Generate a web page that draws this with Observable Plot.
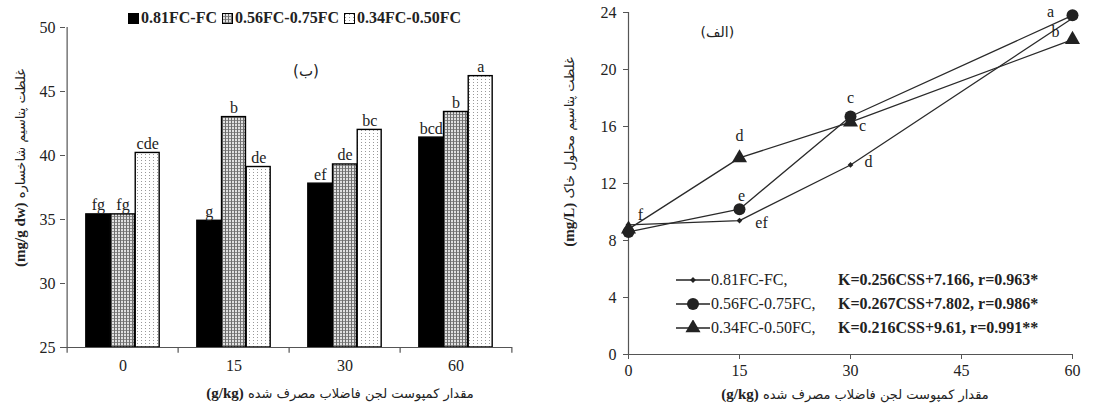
<!DOCTYPE html>
<html><head><meta charset="utf-8">
<script src="https://cdn.jsdelivr.net/npm/d3@7"></script>
<script src="https://cdn.jsdelivr.net/npm/@observablehq/plot@0.6"></script>
<style>
body{margin:0;background:#fff;}
#wrap{position:relative;width:1104px;height:405px;overflow:hidden;font-family:"Liberation Serif","DejaVu Sans",serif;color:#222;}
.panel{position:absolute;top:0;}
.ttl{position:absolute;white-space:nowrap;font-size:13px;font-family:"DejaVu Sans","Liberation Serif",sans-serif;transform:translate(-50%,-50%);}
.ttl b{font-family:"Liberation Serif",serif;font-size:15px;unicode-bidi:isolate;}
.rot{transform:translate(-50%,-50%) rotate(-90deg);}
#leg1{position:absolute;left:128px;top:9px;font-weight:bold;font-size:16px;display:flex;align-items:center;white-space:nowrap;font-family:"Liberation Serif",serif;}
#leg1 svg{margin-right:2px;}
#leg1 span{margin-right:5px;}
#leg2{position:absolute;left:675px;top:268px;font-size:16px;font-family:"Liberation Serif",serif;}
#leg2 .row{display:flex;align-items:center;height:24px;white-space:nowrap;}
#leg2 .nm{width:127px;}
#leg2 .eq{font-weight:bold;}
</style></head><body>
<div id="wrap"></div>
<script>
// ---------- data ----------
const doses = ["0", "15", "30", "60"];
const regimes = ["0.81FC-FC", "0.56FC-0.75FC", "0.34FC-0.50FC"];
// shoot K (mg/g dw), panel (ب)
const shoot081 = [35.4, 34.9, 37.8, 41.4];
const shoot056 = [35.4, 43.0, 39.3, 43.4];
const shoot034 = [40.2, 39.1, 42.0, 46.2];
const shootLet081 = ["fg", "g", "ef", "bcd"];
const shootLet056 = ["fg", "b", "de", "b"];
const shootLet034 = ["cde", "de", "bc", "a"];
const shootTicks = [25, 30, 35, 40, 45, 50];
// soil solution K (mg/L), panel (الف)
const soilDose = [0, 15, 30, 60];
const soil081 = [9.1, 9.4, 13.3, 23.6];
const soil056 = [8.6, 10.2, 16.7, 23.8];
const soil034 = [8.8, 13.8, 16.3, 22.1];
const soilLet081 = ["f", "ef", "d", ""];
const soilLet056 = ["", "e", "c", "a"];
const soilLet034 = ["", "d", "c", "b"];
const soilXTicks = [0, 15, 30, 45, 60];
const soilYTicks = [0, 4, 8, 12, 16, 20, 24];
const equations = ["K=0.256CSS+7.166, r=0.963*", "K=0.267CSS+7.802, r=0.986*", "K=0.216CSS+9.61, r=0.991**"];

const shootVals = [shoot081, shoot056, shoot034];
const shootLets = [shootLet081, shootLet056, shootLet034];
const soilVals = [soil081, soil056, soil034];
const soilLets = [soilLet081, soilLet056, soilLet034];

const FONT = '"Liberation Serif","DejaVu Sans",serif';
const wrap = document.getElementById("wrap");

// ---------- left panel: bars ----------
const W1 = 560, H = 405, ml1 = 65, mr1 = 48, mt1 = 27, mb1 = 58;
const bw = (W1 - ml1 - mr1) / doses.length;
const barW = 24.7;
const fills = ["#000", "url(#patDense)", "url(#patSparse)"];

function defsMark() {
  const defs = d3.create("svg:defs");
  const p1 = defs.append("pattern").attr("id", "patDense").attr("patternUnits", "userSpaceOnUse").attr("width", 3).attr("height", 3);
  p1.append("rect").attr("width", 3).attr("height", 3).attr("fill", "#e0e0e0");
  p1.append("rect").attr("width", 3).attr("height", 1).attr("fill", "#8a8a8a");
  p1.append("rect").attr("width", 1).attr("height", 3).attr("fill", "#6e6e6e");
  const p2 = defs.append("pattern").attr("id", "patSparse").attr("patternUnits", "userSpaceOnUse").attr("width", 4).attr("height", 3);
  p2.append("rect").attr("width", 4).attr("height", 3).attr("fill", "#fff");
  p2.append("rect").attr("x", 1).attr("y", 1).attr("width", 1).attr("height", 1).attr("fill", "#999");
  return defs.node();
}

const barMarks = [];
regimes.forEach((r, j) => {
  const rows = doses.map((d, i) => ({dose: d, value: shootVals[j][i], letter: shootLets[j][i]}));
  const off = bw / 2 - 1.5 * barW;
  barMarks.push(Plot.barY(rows, {
    x: "dose", y1: 25, y2: "value", fill: fills[j], stroke: "#000", strokeWidth: 1.4,
    insetLeft: off + j * barW, insetRight: off + (2 - j) * barW
  }));
  barMarks.push(Plot.text(rows, {
    x: "dose", y: "value", text: "letter", dx: (j - 1) * barW, dy: -4,
    lineAnchor: "bottom", fontSize: 16, fill: "#222"
  }));
});

const left = Plot.plot({
  width: W1, height: H,
  marginLeft: ml1, marginRight: mr1, marginTop: mt1, marginBottom: mb1,
  style: {fontFamily: FONT, fontSize: "16px", color: "#222", background: "white", overflow: "visible"},
  x: {type: "band", domain: doses, padding: 0, label: null},
  y: {domain: [25, 50], label: null},
  marks: [
    defsMark,
    ...barMarks,
    Plot.ruleY([25], {stroke: "#555", strokeWidth: 1.2}),
    Plot.ruleX(["0"], {dx: -bw / 2, y1: 25, y2: 50, stroke: "#555", strokeWidth: 1.2}),
    Plot.ruleX(doses, {dx: -bw / 2, y1: 25, y2: 24.55, stroke: "#555", strokeWidth: 1.2}),
    Plot.ruleX(["60"], {dx: bw / 2, y1: 25, y2: 24.55, stroke: "#555", strokeWidth: 1.2}),
    Plot.axisY({ticks: shootTicks, tickSize: 5, tickPadding: 5, fontSize: 16, label: null, stroke: "#555"}),
    Plot.axisX({tickSize: 0, tickPadding: 12, fontSize: 16, label: null}),
    Plot.text(["(ب)"], {text: d => d, frameAnchor: "top", dx: 17, dy: 38, fontSize: 15, fontFamily: '"DejaVu Sans",sans-serif'})
  ]
});
left.classList.add("panel");
left.style.left = "0px";
wrap.appendChild(left);

// ---------- right panel: lines ----------
const W2 = 544, ml2 = 68, mr2 = 32, mt2 = 12, mb2 = 51;
const symbols = ["diamond2", "circle", "triangle"];
const radii = [2.6, 6, 5.6];
const labelOffsets = [
  [[12, -10], [22, 2], [18, -3], [0, 0]],
  [[0, 0], [2, -13], [0, -19], [-22, -3]],
  [[0, 0], [0, -22], [12, 4], [-17, -8]]
];
const lineMarks = [];
regimes.forEach((r, j) => {
  const rows = soilDose.map((d, i) => ({dose: d, value: soilVals[j][i], letter: soilLets[j][i]}));
  lineMarks.push(Plot.line(rows, {x: "dose", y: "value", stroke: "#2a2a2a", strokeWidth: 1.3}));
  lineMarks.push(Plot.dot(rows, {x: "dose", y: "value", symbol: symbols[j], r: radii[j], fill: "#222", stroke: "none"}));
  rows.forEach((row, i) => {
    if (!row.letter) return;
    lineMarks.push(Plot.text([row], {x: "dose", y: "value", text: "letter", dx: labelOffsets[j][i][0], dy: labelOffsets[j][i][1], fontSize: 16, fill: "#222"}));
  });
});

const right = Plot.plot({
  width: W2, height: H,
  marginLeft: ml2, marginRight: mr2, marginTop: mt2, marginBottom: mb2,
  style: {fontFamily: FONT, fontSize: "16px", color: "#222", background: "white", overflow: "visible"},
  x: {domain: [0, 60], label: null},
  y: {domain: [0, 24], label: null},
  marks: [
    Plot.ruleY([0], {stroke: "#555", strokeWidth: 1.2}),
    Plot.ruleX([0], {stroke: "#555", strokeWidth: 1.2}),
    Plot.axisY({ticks: soilYTicks, tickSize: 5, tickPadding: 7, fontSize: 16, label: null, stroke: "#555"}),
    Plot.axisX({ticks: soilXTicks, tickSize: 5, tickPadding: 5, fontSize: 16, label: null, stroke: "#555"}),
    ...lineMarks,
    Plot.text(["(الف)"], {text: d => d, frameAnchor: "top-left", dx: 72, dy: 15, fontSize: 14, fontFamily: '"DejaVu Sans",sans-serif'})
  ]
});
right.classList.add("panel");
right.style.left = "560px";
wrap.appendChild(right);

// ---------- legends ----------
const leg1 = document.createElement("div");
leg1.id = "leg1";
regimes.forEach((r, j) => {
  const s = d3.create("svg").attr("width", 11).attr("height", 11);
  s.append("rect").attr("x", 0.5).attr("y", 0.5).attr("width", 10).attr("height", 10)
    .attr("fill", fills[j]).attr("stroke", "#000").attr("stroke-width", 1);
  leg1.appendChild(s.node());
  const t = document.createElement("span");
  t.textContent = r;
  leg1.appendChild(t);
});
wrap.appendChild(leg1);

const leg2 = document.createElement("div");
leg2.id = "leg2";
regimes.forEach((r, j) => {
  const row = document.createElement("div");
  row.className = "row";
  const s = d3.create("svg").attr("width", 36).attr("height", 16);
  s.append("line").attr("x1", 1).attr("x2", 35).attr("y1", 8).attr("y2", 8).attr("stroke", "#222").attr("stroke-width", 1.5);
  const sym = [d3.symbolDiamond2, d3.symbolCircle, d3.symbolTriangle][j];
  s.append("path").attr("transform", "translate(18,8)")
    .attr("d", d3.symbol(sym, Math.PI * radii[j] * radii[j])()).attr("fill", "#222");
  row.appendChild(s.node());
  const nm = document.createElement("span"); nm.className = "nm"; nm.textContent = r + ",";
  const eq = document.createElement("span"); eq.className = "eq"; eq.textContent = equations[j];
  row.appendChild(nm); row.appendChild(eq);
  leg2.appendChild(row);
});
wrap.appendChild(leg2);

// ---------- axis titles ----------
function title(html, x, y, rot) {
  const d = document.createElement("div");
  d.className = "ttl" + (rot ? " rot" : "");
  d.style.left = x + "px"; d.style.top = y + "px";
  d.innerHTML = html;
  wrap.appendChild(d);
}
title('<span dir="rtl">غلظت پتاسیم شاخساره <b dir="ltr">(mg/g dw)</b></span>', 20, 168, true);
title('<span dir="rtl">مقدار کمپوست لجن فاضلاب مصرف شده <b dir="ltr">(g/kg)</b></span>', 340, 393, false);
title('<span dir="rtl">غلظت پتاسیم محلول خاک <b dir="ltr">(mg/L)</b></span>', 569, 152, true);
title('<span dir="rtl">مقدار کمپوست لجن فاضلاب مصرف شده <b dir="ltr">(g/kg)</b></span>', 855, 394, false);
</script>
</body></html>
